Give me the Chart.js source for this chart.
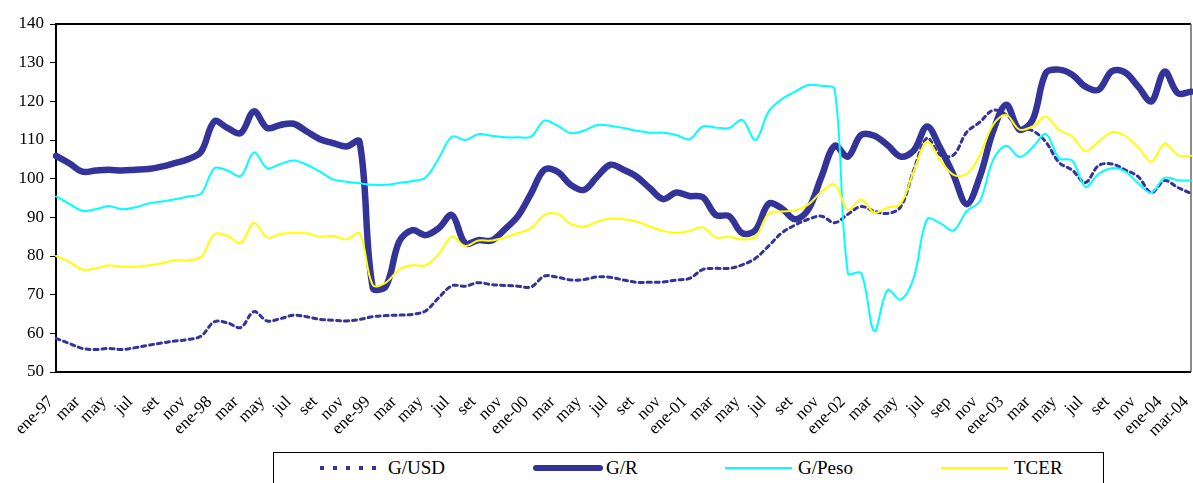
<!DOCTYPE html>
<html>
<head>
<meta charset="utf-8">
<script src="https://cdn.jsdelivr.net/npm/chart.js@4/dist/chart.umd.min.js"></script>
<style>
  html, body { margin: 0; padding: 0; background: #fff; overflow: hidden; }
  #wrap { position: relative; width: 1193px; height: 483px; }
  #c { position: absolute; left: 0; top: 0; }
  #legend {
    position: absolute; left: 273px; top: 452px; width: 829px; height: 40px;
    border: 1px solid #000; font-family: "Liberation Serif", "Times New Roman", serif;
    font-size: 19px; color: #000;
  }
  .item { position: absolute; top: 4px; display: flex; align-items: center; height: 22px; }
  .item svg { display: block; margin-right: 3px; }
</style>
</head>
<body>
<div id="wrap">
  <canvas id="c" width="1193" height="450"></canvas>
  <div id="legend">
    <div class="item" style="left:44px"><svg width="67" height="12"><line x1="2" y1="6" x2="67" y2="6" stroke="#333399" stroke-width="4" stroke-dasharray="4 9"/></svg>G/USD</div>
    <div class="item" style="left:259px"><svg width="70" height="12"><line x1="3" y1="6" x2="67" y2="6" stroke="#333399" stroke-width="6" stroke-linecap="round"/></svg>G/R</div>
    <div class="item" style="left:451px"><svg width="70" height="12"><line x1="0" y1="6" x2="67" y2="6" stroke="#00FFFF" stroke-width="2"/></svg>G/Peso</div>
    <div class="item" style="left:667px"><svg width="70" height="12"><line x1="0" y1="6" x2="67" y2="6" stroke="#FFFF00" stroke-width="2"/></svg>TCER</div>
  </div>
</div>
<script>
// meses ene-97 .. mar-04
const months = [
  'ene-97','feb-97','mar-97','abr-97','may-97','jun-97','jul-97','ago-97','set-97','oct-97','nov-97','dic-97',
  'ene-98','feb-98','mar-98','abr-98','may-98','jun-98','jul-98','ago-98','set-98','oct-98','nov-98','dic-98',
  'ene-99','feb-99','mar-99','abr-99','may-99','jun-99','jul-99','ago-99','set-99','oct-99','nov-99','dic-99',
  'ene-00','feb-00','mar-00','abr-00','may-00','jun-00','jul-00','ago-00','set-00','oct-00','nov-00','dic-00',
  'ene-01','feb-01','mar-01','abr-01','may-01','jun-01','jul-01','ago-01','set-01','oct-01','nov-01','dic-01',
  'ene-02','feb-02','mar-02','abr-02','may-02','jun-02','jul-02','ago-02','sep-02','oct-02','nov-02','dic-02',
  'ene-03','feb-03','mar-03','abr-03','may-03','jun-03','jul-03','ago-03','set-03','oct-03','nov-03','dic-03',
  'ene-04','feb-04','mar-04'
];

// one label every two months
const tickLabels = [
  'ene-97','mar','may','jul','set','nov',
  'ene-98','mar','may','jul','set','nov',
  'ene-99','mar','may','jul','set','nov',
  'ene-00','mar','may','jul','set','nov',
  'ene-01','mar','may','jul','set','nov',
  'ene-02','mar','may','jul','sep','nov',
  'ene-03','mar','may','jul','set','nov',
  'ene-04','mar-04'
];

const gUsd = [
  58.7,57.4,56.1,55.8,56.1,55.8,56.3,56.9,57.5,58.0,58.4,59.3,
  63.0,62.7,61.5,65.6,63.2,63.8,64.7,64.3,63.6,63.4,63.2,63.6,
  64.3,64.6,64.7,64.9,65.8,69.2,72.3,72.2,73.1,72.6,72.4,72.2,
  72.0,74.8,74.5,73.8,73.9,74.6,74.5,73.8,73.2,73.2,73.3,73.8,
  74.2,76.5,76.8,76.8,77.7,79.4,82.6,86.0,88.0,89.5,90.3,88.6,
  90.8,92.8,91.6,91.0,92.7,102.3,110.5,106.1,106.1,112.0,114.6,117.7,
  116.5,113.1,112.4,109.5,104.2,102.2,99.0,103.4,103.8,102.3,100.5,96.4,
  99.5,97.7,96.2
];

const gR = [
  105.9,104.0,101.8,102.1,102.3,102.1,102.3,102.5,103.1,104.0,105.0,107.0,
  114.8,113.1,111.8,117.4,113.1,113.9,114.2,112.2,110.2,109.2,108.3,109.6,
  71.8,72.2,83.7,86.7,85.4,87.2,90.6,83.3,84.1,84.0,86.9,90.3,
  96.2,102.3,101.8,98.4,97.1,100.5,103.6,102.3,100.5,97.5,94.7,96.4,
  95.5,95.2,90.6,90.3,85.9,86.7,93.5,92.3,89.5,92.0,100.5,108.5,
  105.7,111.3,111.1,108.7,105.7,107.3,113.5,107.9,101.0,93.4,100.5,112.2,
  119.1,112.7,115.2,127.3,128.2,126.9,123.8,123.0,127.8,127.5,123.8,120.0,
  127.7,122.1,122.5
];

const gPeso = [
  95.4,93.5,91.7,92.1,92.9,92.1,92.6,93.6,94.1,94.7,95.4,96.2,
  102.7,102.1,100.7,106.8,102.7,103.8,104.7,103.6,101.8,99.8,99.2,98.8,
  98.4,98.4,98.9,99.4,100.3,105.3,110.9,110.0,111.5,111.1,110.7,110.7,
  110.9,115.0,113.7,111.8,112.4,113.9,113.7,113.1,112.4,111.9,111.9,111.3,
  110.2,113.5,113.2,113.1,115.2,110.0,117.4,120.6,122.5,124.2,124.0,123.1,
  75.6,75.6,60.6,71.2,68.7,74.5,89.5,88.5,86.6,91.6,94.2,104.8,
  108.5,105.6,108.1,111.6,105.3,104.7,97.9,101.2,102.7,101.9,98.8,96.4,
  100.2,99.6,99.5
];

const tcer = [
  80.0,78.5,76.5,76.8,77.6,77.2,77.2,77.6,78.1,78.9,78.9,79.8,
  85.7,85.2,83.4,88.6,84.8,85.7,86.0,85.9,85.0,85.2,84.3,85.9,
  72.5,73.1,76.5,77.6,77.6,80.5,85.0,82.6,84.0,84.0,84.8,85.9,
  87.2,90.6,90.9,88.3,87.6,88.9,89.7,89.5,88.9,87.6,86.5,86.0,
  86.5,87.4,84.8,85.0,84.3,85.0,91.0,91.5,91.8,93.3,96.6,98.5,
  91.9,94.7,91.2,92.5,93.5,102.0,109.6,104.8,101.0,101.2,106.1,113.9,
  116.5,112.7,113.5,116.0,112.6,110.9,107.1,109.6,112.0,111.1,108.1,104.4,
  109.1,106.1,105.9
];

const serif = '"Liberation Serif", "Times New Roman", serif';

// plot frame
const framePlugin = {
  id: 'frame',
  beforeDatasetsDraw(chart) {
    const a = chart.chartArea;
    const ctx = chart.ctx;
    ctx.save();
    ctx.strokeStyle = '#000';
    ctx.lineWidth = 2;
    ctx.beginPath();
    ctx.moveTo(a.right, a.top);
    ctx.lineTo(a.left, a.top);
    ctx.lineTo(a.left, a.bottom);
    ctx.lineTo(a.right, a.bottom);
    ctx.stroke();
    ctx.strokeStyle = '#666';
    ctx.lineWidth = 1.5;
    ctx.beginPath();
    ctx.moveTo(a.right, a.top);
    ctx.lineTo(a.right, a.bottom);
    ctx.stroke();
    ctx.restore();
  }
};

new Chart(document.getElementById('c'), {
  type: 'line',
  data: {
    labels: months,
    datasets: [
      { label: 'G/USD', data: gUsd, borderColor: '#333399', borderWidth: 3, borderDash: [4, 4], order: 4 },
      { label: 'G/R', data: gR, borderColor: '#333399', borderWidth: 6.5, order: 3 },
      { label: 'G/Peso', data: gPeso, borderColor: '#00FFFF', borderWidth: 2, order: 2 },
      { label: 'TCER', data: tcer, borderColor: '#FFFF00', borderWidth: 2, order: 1 }
    ]
  },
  options: {
    responsive: false,
    animation: false,
    devicePixelRatio: 1,
    elements: {
      point: { radius: 0 },
      line: { tension: 0.35, fill: false, borderCapStyle: 'round', borderJoinStyle: 'round' }
    },
    layout: { padding: { top: 24, right: 2, left: 0, bottom: 0 } },
    plugins: { legend: { display: false }, tooltip: { enabled: false } },
    scales: {
      x: {
        offset: false,
        grid: { display: false, drawTicks: false },
        border: { display: false },
        ticks: {
          autoSkip: false,
          minRotation: 45,
          maxRotation: 45,
          padding: 20,
          labelOffset: -5,
          color: '#000',
          font: { family: serif, size: 17 },
          callback: (v, i) => (i % 2 === 0 ? tickLabels[i / 2] : '')
        },
        afterFit(scale) {
          scale.height = 78;
          scale.paddingLeft = 0;
          scale.paddingRight = 0;
        }
      },
      y: {
        min: 50,
        max: 140,
        grid: { drawOnChartArea: false, drawTicks: true, tickLength: 6, color: '#000', lineWidth: 1 },
        border: { display: false },
        ticks: {
          stepSize: 10,
          padding: 6,
          color: '#000',
          font: { family: serif, size: 17 }
        },
        afterFit(scale) {
          scale.width = 56;
        }
      }
    }
  },
  plugins: [framePlugin]
});
</script>
</body>
</html>
